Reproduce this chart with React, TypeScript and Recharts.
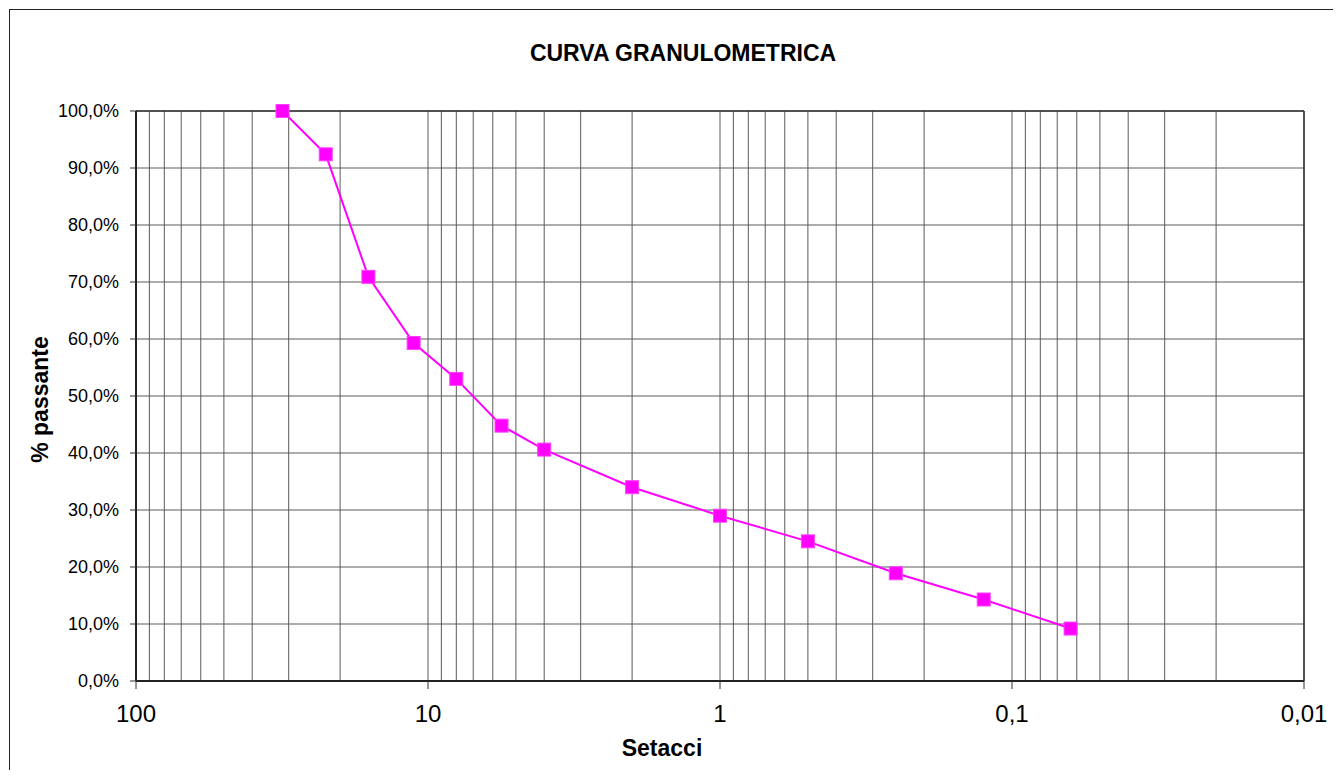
import React from "react";
import {
  CartesianGrid,
  Line,
  LineChart,
  ReferenceLine,
  XAxis,
  YAxis,
} from "recharts";

// sieve openings (mm) and fraction passing
const sieves = [31.5, 22.4, 16, 11.2, 8, 5.6, 4, 2, 1, 0.5, 0.25, 0.125, 0.063];
const passing = [1.0, 0.924, 0.709, 0.593, 0.53, 0.448, 0.406, 0.34, 0.29, 0.245, 0.189, 0.143, 0.092];

const decades = [0.01, 0.1, 1, 10];
const minorSteps = [1, 2, 3, 4, 5, 6, 7, 8, 9];
const xTicks = [...decades.flatMap((d) => minorSteps.map((m) => m * d)), 100];
const yTicks = [0, 0.1, 0.2, 0.3, 0.4, 0.5, 0.6, 0.7, 0.8, 0.9, 1];

const data = sieves.map((d, i) => ({ d, p: passing[i] }));

const FONT = "'Liberation Sans', Arial, sans-serif";

const isDecade = (v: number) => {
  const l = Math.log10(v);
  return Math.abs(l - Math.round(l)) < 1e-6;
};

const XTick = ({ x, y, payload }: any) => {
  const v = payload.value;
  if (!isDecade(v)) return null;
  return (
    <g>
      <line x1={x} x2={x} y1={y} y2={y + 8} stroke="#333" />
      <text
        x={x}
        y={y + 41}
        textAnchor="middle"
        fontSize={24}
        fontFamily={FONT}
        fill="#000"
      >
        {String(v).replace(".", ",")}
      </text>
    </g>
  );
};

const SquareDot = ({ cx, cy }: any) => {
  if (cx == null || cy == null) return null;
  return (
    <rect
      x={cx - 6.5}
      y={cy - 6.5}
      width={13}
      height={13}
      fill="#FF00FF"
      stroke="#FF40FF"
      strokeWidth={1}
    />
  );
};

const pct = (v: number) => (v * 100).toFixed(1).replace(".", ",") + "%";

export default function App() {
  return (
    <div
      style={{
        position: "relative",
        width: 1325,
        height: 762,
        overflow: "hidden",
        fontFamily: FONT,
      }}
    >
      <div
        style={{
          position: "absolute",
          left: 1,
          top: 1,
          width: 1400,
          height: 800,
          border: "1px solid #222",
          boxSizing: "border-box",
        }}
      />
      <div
        style={{
          position: "absolute",
          left: 0,
          top: 32,
          width: 1350,
          textAlign: "center",
          fontWeight: "bold",
          fontSize: 23,
        }}
      >
        CURVA GRANULOMETRICA
      </div>
      <div
        style={{
          position: "absolute",
          left: 32 - 100,
          top: 391 - 13,
          width: 200,
          textAlign: "center",
          fontWeight: "bold",
          fontSize: 23,
          transform: "rotate(-90deg)",
        }}
      >
        % passante
      </div>
      <div
        style={{
          position: "absolute",
          left: 654 - 100,
          top: 727,
          width: 200,
          textAlign: "center",
          fontWeight: "bold",
          fontSize: 23,
        }}
      >
        Setacci
      </div>
      <div style={{ position: "absolute", left: 0, top: 0 }}>
        <LineChart
          width={1325}
          height={762}
          data={data}
          margin={{ top: 103, right: 29, left: 48, bottom: 39 }}
        >
          <CartesianGrid stroke="#5a5a5a" strokeWidth={1} />
          <XAxis
            dataKey="d"
            type="number"
            scale="log"
            domain={[0.01, 100]}
            reversed
            allowDataOverflow
            ticks={xTicks}
            interval={0}
            tick={<XTick />}
            tickLine={false}
            tickSize={0}
            tickMargin={0}
            height={50}
            axisLine={{ stroke: "#222", strokeWidth: 2 }}
          />
          <YAxis
            type="number"
            domain={[0, 1]}
            ticks={yTicks}
            interval={0}
            width={80}
            tickFormatter={pct}
            tickSize={6}
            tickMargin={11}
            tickLine={{ stroke: "#333" }}
            axisLine={{ stroke: "#222", strokeWidth: 2 }}
            tick={{ fill: "#000", fontSize: 18, fontFamily: FONT }}
          />
          <ReferenceLine y={1} stroke="#333" strokeWidth={1.5} />
          <ReferenceLine x={0.01} stroke="#333" strokeWidth={1.5} />
          <Line
            dataKey="p"
            type="linear"
            stroke="#FF00FF"
            strokeWidth={2}
            dot={<SquareDot />}
            isAnimationActive={false}
          />
        </LineChart>
      </div>
    </div>
  );
}
